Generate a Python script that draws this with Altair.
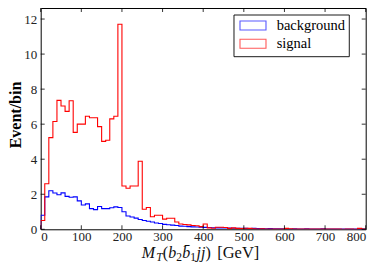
import altair as alt
import pandas as pd

# ---------------- data ----------------
bin_edges = list(range(0, 810, 10))

signal = [
    0.5, 2.6, 5.23, 6.15, 7.36, 7.04, 6.73, 7.34, 5.53, 6.0,
    6.0, 6.45, 6.37, 6.37, 5.86, 5.02, 5.08, 6.3, 6.45, 11.7,
    2.47, 2.34, 2.47, 2.47, 3.88, 1.14, 1.24, 0.72, 0.8, 0.8,
    0.58, 0.63, 0.63, 0.42, 0.3, 0.27, 0.25, 0.22, 0.2, 0.15,
    0.3, 0.08, 0.06, 0.12, 0.12, 0.1, 0.05, 0.08, 0.05, 0.04,
    0.06, 0.05, 0.03, 0.02, 0.03, 0.02, 0.02, 0.01, 0.02, 0.01,
    0.05, 0.03, 0.02, 0.01, 0.02, 0.01, 0.01, 0.02, 0.01, 0.01,
    0.01, 0.02, 0.01, 0.01, 0.0, 0.01, 0.01, 0.0, 0.05, 0.01,
]

background = [
    0.8, 1.85, 2.2, 2.07, 1.97, 2.08, 1.88, 1.83, 1.85, 1.62,
    1.39, 1.45, 1.18, 1.12, 1.3, 1.18, 1.18, 1.23, 1.28, 1.24,
    1.0, 0.76, 0.7, 0.64, 0.56, 0.5, 0.46, 0.42, 0.36, 0.33,
    0.28, 0.26, 0.24, 0.22, 0.18, 0.17, 0.15, 0.14, 0.13, 0.12,
    0.11, 0.1, 0.09, 0.08, 0.08, 0.07, 0.07, 0.06, 0.06, 0.05,
    0.05, 0.04, 0.05, 0.04, 0.04, 0.03, 0.04, 0.03, 0.03, 0.03,
    0.03, 0.02, 0.03, 0.02, 0.02, 0.03, 0.02, 0.02, 0.02, 0.03,
    0.02, 0.02, 0.01, 0.02, 0.02, 0.01, 0.01, 0.01, 0.01, 0.01,
]

series_names = ["background", "signal"]
series_colors = ["#0000ff", "#ff0000"]
x_ticks = [0, 100, 200, 300, 400, 500, 600, 700, 800]
y_ticks = [0, 2, 4, 6, 8, 10, 12]
y_label = "Event/bin"

# ---------------- layout ----------------
W, H = 325, 221.3
SERIF = "Liberation Serif"
TICK = 4


def step_frame(name, vals):
    rows = [dict(series=name, x=bin_edges[0], y=0.0, o=0)]
    k = 1
    for i, v in enumerate(vals):
        rows.append(dict(series=name, x=bin_edges[i], y=v, o=k)); k += 1
        rows.append(dict(series=name, x=bin_edges[i + 1], y=v, o=k)); k += 1
    rows.append(dict(series=name, x=bin_edges[-1], y=0.0, o=k))
    return pd.DataFrame(rows)


xscale = alt.Scale(domain=[0, 800], nice=False, zero=False)
yscale = alt.Scale(domain=[0, 12.63], nice=False, zero=False)
color_scale = alt.Scale(domain=series_names, range=series_colors)

xaxis = alt.Axis(values=x_ticks, ticks=False, tickSize=0, domain=False, grid=False,
                 labelFont=SERIF, labelFontSize=13, labelColor="#222",
                 labelPadding=1, title=None)
yaxis = alt.Axis(values=y_ticks, ticks=False, tickSize=0, domain=False, grid=False,
                 labelFont=SERIF, labelFontSize=13, labelColor="#222",
                 labelPadding=4, title=None)


def X(field):
    return alt.X(field, type="quantitative", scale=xscale, axis=xaxis, title=None)


def Y(field):
    return alt.Y(field, type="quantitative", scale=yscale, axis=yaxis, title=None)


def line_layer(name, vals):
    return alt.Chart(step_frame(name, vals)).mark_line(strokeWidth=1.1, clip=True).encode(
        x=X("x"), y=Y("y"), order="o:Q",
        color=alt.Color("series:N", scale=color_scale, legend=None),
    )


layers = [line_layer("background", background), line_layer("signal", signal)]

# inward ticks on all four sides
xt = pd.DataFrame({"v": x_ticks})
yt = pd.DataFrame({"v": y_ticks})
tick_style = dict(color="black", strokeWidth=0.8)
layers += [
    alt.Chart(xt).mark_rule(**tick_style).encode(x=X("v"), y=alt.value(H), y2=alt.value(H - TICK)),
    alt.Chart(xt).mark_rule(**tick_style).encode(x=X("v"), y=alt.value(0), y2=alt.value(TICK)),
    alt.Chart(yt).mark_rule(**tick_style).encode(y=Y("v"), x=alt.value(0), x2=alt.value(TICK)),
    alt.Chart(yt).mark_rule(**tick_style).encode(y=Y("v"), x=alt.value(W), x2=alt.value(W - TICK)),
]

one = pd.DataFrame({"d": [0]})

# legend (box, patches, labels)
LX0, LX1, LY0, LY1 = 193.3, 308.6, 7, 48.7
layers.append(
    alt.Chart(one).mark_rect(fill="white", stroke="black", strokeWidth=0.9).encode(
        x=alt.value(LX0), x2=alt.value(LX1), y=alt.value(LY0), y2=alt.value(LY1))
)
patch_y = [13, 31.3]
label_y = [22, 39.5]
for name, col, py, ly in zip(series_names, series_colors, patch_y, label_y):
    layers.append(
        alt.Chart(one).mark_rect(fillOpacity=0, stroke=col, strokeOpacity=0.65, strokeWidth=1.1).encode(
            x=alt.value(199.3), x2=alt.value(225.3), y=alt.value(py), y2=alt.value(py + 9))
    )
    layers.append(
        alt.Chart(one).mark_text(text=name, align="left", baseline="alphabetic",
                                 font=SERIF, fontSize=14.5, color="black").encode(
            x=alt.value(236), y=alt.value(ly))
    )

# y-axis title
layers.append(
    alt.Chart(one).mark_text(text=y_label, angle=270, align="center", baseline="alphabetic",
                             font=SERIF, fontSize=16, fontWeight="bold", color="black").encode(
        x=alt.value(-19.5), y=alt.value(107))
)

# x-axis title  M_T(b_2 b̄_1 jj) [GeV]
BASE, SUB = 250, 252.7
title_parts = [
    ("M", 101.0, BASE, 16, "italic"),
    ("T", 115.5, SUB, 11.5, "italic"),
    ("(", 122.0, BASE, 16, "normal"),
    ("b", 127.5, BASE, 16, "italic"),
    ("2", 135.6, SUB, 11.5, "normal"),
    ("b\u0304", 141.5, BASE, 16, "italic"),
    ("1", 149.6, SUB, 11.5, "normal"),
    ("jj", 155.8, BASE, 16, "italic"),
    (")", 164.8, BASE, 16, "normal"),
    ("[GeV]", 176.5, BASE, 16.5, "normal"),
]
for txt, tx, ty, fs, st in title_parts:
    layers.append(
        alt.Chart(one).mark_text(text=txt, align="left", baseline="alphabetic",
                                 font=SERIF, fontSize=fs, fontStyle=st, color="#111").encode(
            x=alt.value(tx), y=alt.value(ty))
    )

chart = alt.layer(*layers).properties(
    width=W, height=H,
    autosize=alt.AutoSizeParams(type="none"),
    padding={"left": 32.7, "top": 0, "right": 6, "bottom": 35},
).configure_view(stroke="black", strokeWidth=1)

chart.save("out.html", embed_options={"renderer": "svg", "actions": False})
